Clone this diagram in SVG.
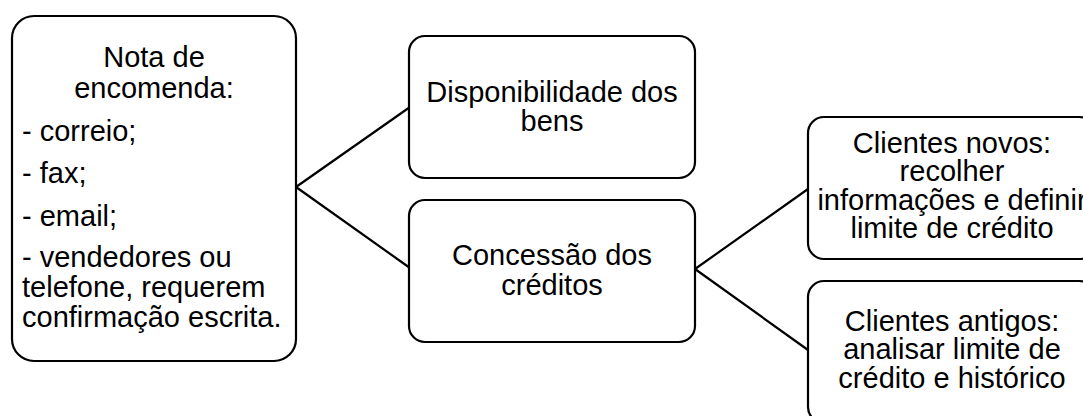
<svg xmlns="http://www.w3.org/2000/svg" width="1083" height="416" viewBox="0 0 1083 416">
<style>
.box{fill:#fff;stroke:#000;stroke-width:2.2}
.conn{fill:none;stroke:#000;stroke-width:2.2}
text{font-family:"Liberation Sans",Arial,sans-serif;font-size:29px;fill:#000}
.c{text-anchor:middle}
</style>
<rect width="1083" height="416" fill="#fff"/>
<g id="connectors">
<path class="conn" d="M296,187 L410,107 M296,187 L410,268"/>
<path class="conn" d="M695,269 L808,189 M695,269 L808,350"/>
</g>
<g id="node-nota">
<rect class="box" x="12" y="16" width="284" height="345" rx="22"/>
<text class="c" x="154" y="67">Nota de</text>
<text class="c" x="154" y="98">encomenda:</text>
<text x="22" y="141">- correio;</text>
<text x="22" y="183">- fax;</text>
<text x="22" y="226">- email;</text>
<text x="22" y="267">- vendedores ou</text>
<text x="22" y="297">telefone, requerem</text>
<text x="22" y="327">confirmação escrita.</text>
</g>
<g id="node-disponibilidade">
<rect class="box" x="409" y="36" width="286" height="142" rx="16"/>
<text class="c" x="552" y="102">Disponibilidade dos</text>
<text class="c" x="552" y="131">bens</text>
</g>
<g id="node-concessao">
<rect class="box" x="409" y="200" width="286" height="142" rx="16"/>
<text class="c" x="552" y="265">Concessão dos</text>
<text class="c" x="552" y="295">créditos</text>
</g>
<g id="node-novos">
<rect class="box" x="808" y="117" width="287" height="142" rx="16"/>
<text class="c" x="952" y="153">Clientes novos:</text>
<text class="c" x="952" y="181">recolher</text>
<text class="c" x="952" y="210">informações e definir</text>
<text class="c" x="952" y="238">limite de crédito</text>
</g>
<g id="node-antigos">
<rect class="box" x="808" y="281" width="287" height="142" rx="16"/>
<text class="c" x="952" y="331">Clientes antigos:</text>
<text class="c" x="952" y="359">analisar limite de</text>
<text class="c" x="952" y="388">crédito e histórico</text>
</g>
</svg>
